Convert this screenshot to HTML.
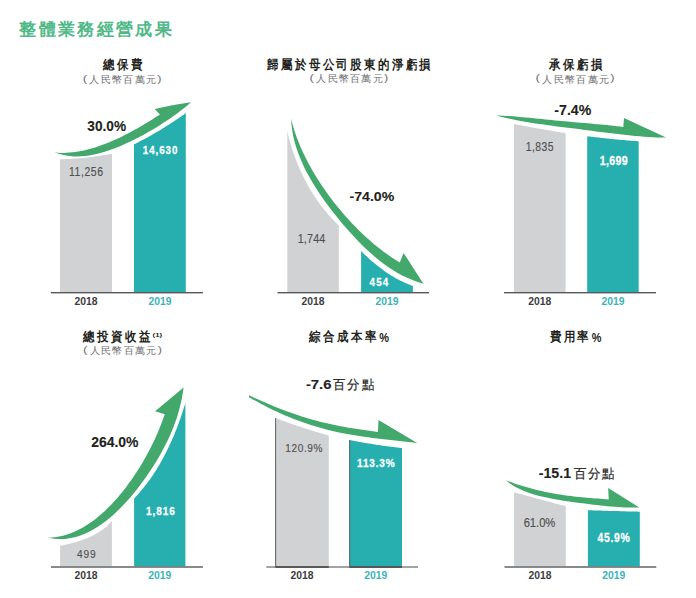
<!DOCTYPE html>
<html><head><meta charset="utf-8"><style>
html,body{margin:0;padding:0;background:#fff;width:696px;height:598px;overflow:hidden}
svg{display:block;font-family:"Liberation Sans",sans-serif}
</style></head><body>
<svg width="696" height="598" viewBox="0 0 696 598">
<path d="M60,292 L60,159.3 L60.0,159.3 L61.3,159.3 L62.7,159.2 L64.0,159.2 L65.4,159.1 L66.7,159.1 L68.1,159.0 L69.4,158.9 L70.7,158.9 L72.1,158.8 L73.4,158.7 L74.8,158.6 L76.1,158.5 L77.4,158.4 L78.8,158.3 L80.1,158.2 L81.4,158.1 L82.8,157.9 L84.1,157.8 L85.5,157.7 L86.8,157.5 L88.1,157.4 L89.4,157.2 L90.8,157.0 L92.1,156.9 L93.4,156.7 L94.8,156.5 L96.1,156.3 L97.4,156.2 L98.8,156.0 L100.1,155.8 L101.4,155.6 L102.7,155.3 L104.1,155.1 L105.4,154.9 L106.7,154.7 L108.0,154.4 L109.4,154.2 L110.7,154.0 L112.0,153.7 L112,292 Z" fill="#d1d2d4"/>
<path d="M134,292 L134,144.4 L134.0,144.4 L135.4,143.7 L136.8,143.0 L138.2,142.3 L139.5,141.6 L140.9,140.8 L142.3,140.1 L143.7,139.4 L145.0,138.7 L146.4,137.9 L147.8,137.2 L149.1,136.4 L150.5,135.7 L151.8,134.9 L153.2,134.1 L154.5,133.3 L155.9,132.6 L157.2,131.8 L158.5,131.0 L159.9,130.2 L161.2,129.4 L162.5,128.6 L163.8,127.8 L165.2,126.9 L166.5,126.1 L167.8,125.3 L169.1,124.5 L170.4,123.6 L171.7,122.8 L173.0,121.9 L174.3,121.1 L175.6,120.2 L176.9,119.3 L178.2,118.5 L179.4,117.6 L180.7,116.7 L182.0,115.8 L183.3,114.9 L184.5,114.0 L185.8,113.1 L185.8,292 Z" fill="#27afb0"/>
<path d="M54.8,152.5 L57.8,152.7 L60.7,152.9 L63.7,152.9 L66.6,152.8 L69.5,152.6 L72.4,152.3 L75.3,152.0 L78.2,151.6 L81.0,151.0 L83.9,150.4 L86.7,149.8 L89.5,149.1 L92.3,148.3 L95.1,147.4 L97.9,146.5 L100.6,145.6 L103.3,144.6 L106.1,143.5 L108.8,142.4 L111.5,141.3 L114.2,140.1 L116.8,138.9 L119.5,137.7 L122.1,136.4 L124.7,135.1 L127.3,133.8 L129.9,132.4 L132.5,131.0 L135.0,129.6 L137.6,128.2 L140.1,126.7 L142.6,125.3 L145.1,123.8 L147.6,122.3 L150.1,120.7 L152.6,119.2 L155.0,117.6 L157.5,116.0 L159.9,114.4 L154.7,109 Q172,104.8 190.9,102.3 L190.9,102.3 L187.9,104.9 L184.9,107.4 L181.8,109.8 L178.7,112.2 L175.7,114.4 L172.5,116.7 L169.4,118.9 L166.2,121.0 L163.0,123.1 L159.8,125.2 L156.6,127.2 L153.3,129.2 L150.0,131.1 L146.6,133.0 L143.2,134.9 L139.8,136.7 L136.4,138.5 L132.9,140.3 L129.4,142.0 L125.8,143.6 L122.3,145.2 L118.7,146.7 L115.0,148.2 L111.4,149.5 L107.7,150.8 L104.0,152.0 L100.3,153.0 L96.5,154.0 L92.8,154.8 L89.0,155.4 L85.2,155.9 L81.4,156.3 L77.6,156.4 L73.8,156.4 L70.0,156.1 L66.2,155.6 L62.4,154.8 L58.6,153.8 L54.8,152.5 Z" fill="#43a86c"/>
<rect x="50.8" y="292" width="152.1" height="1.4" fill="#58595b"/>
<path d="M287.3,292 L287.3,131.1 L287.3,131.1 L287.9,133.8 L288.6,136.5 L289.3,139.2 L290.0,141.9 L290.8,144.6 L291.6,147.2 L292.4,149.9 L293.3,152.6 L294.2,155.2 L295.2,157.8 L296.2,160.4 L297.2,163.1 L298.3,165.6 L299.4,168.2 L300.5,170.8 L301.7,173.3 L302.9,175.8 L304.1,178.3 L305.4,180.8 L306.8,183.3 L308.1,185.7 L309.5,188.2 L310.9,190.6 L312.4,193.0 L313.9,195.3 L315.5,197.7 L317.0,200.0 L318.6,202.3 L320.3,204.5 L322.0,206.7 L323.7,208.9 L325.5,211.1 L327.3,213.3 L329.1,215.4 L331.0,217.5 L332.9,219.5 L334.8,221.6 L336.8,223.5 L338.8,225.5 L338.8,292 Z" fill="#d1d2d4"/>
<path d="M361.1,292 L361.1,251 L361.1,251.0 L362.2,252.1 L363.4,253.3 L364.5,254.4 L365.7,255.5 L366.9,256.6 L368.1,257.7 L369.2,258.8 L370.5,259.9 L371.7,260.9 L372.9,262.0 L374.1,263.0 L375.4,264.1 L376.6,265.1 L377.9,266.1 L379.2,267.1 L380.5,268.1 L381.8,269.1 L383.1,270.0 L384.4,271.0 L385.7,271.9 L387.0,272.8 L388.4,273.7 L389.8,274.6 L391.1,275.4 L392.5,276.3 L393.9,277.1 L395.3,277.9 L396.7,278.7 L398.1,279.4 L399.6,280.2 L401.0,280.9 L402.4,281.6 L403.9,282.3 L405.4,282.9 L406.9,283.6 L408.4,284.2 L409.9,284.8 L411.4,285.4 L412.9,285.9 L412.9,292 Z" fill="#27afb0"/>
<path d="M291.1,118.8 L292.3,123.4 L293.6,128.0 L295.0,132.5 L296.6,136.9 L298.3,141.3 L300.0,145.7 L301.9,150.0 L303.9,154.3 L306.0,158.5 L308.1,162.7 L310.4,166.8 L312.7,170.9 L315.1,175.0 L317.6,179.0 L320.2,183.0 L322.8,186.9 L325.5,190.8 L328.2,194.7 L331.1,198.5 L333.9,202.2 L336.9,205.9 L339.9,209.6 L342.9,213.2 L346.0,216.8 L349.2,220.3 L352.4,223.7 L355.7,227.1 L359.0,230.5 L362.4,233.8 L365.9,237.0 L369.4,240.1 L372.9,243.2 L376.6,246.2 L380.3,249.1 L384.0,252.0 L387.9,254.7 L391.8,257.4 L395.7,260.0 L399.8,262.5 L403.6,252.9 L423.4,283.7 L423.4,283.7 L417.8,282.0 L412.4,280.1 L407.2,277.8 L402.1,275.4 L397.2,272.7 L392.4,269.8 L387.8,266.7 L383.3,263.4 L378.8,260.0 L374.5,256.4 L370.3,252.7 L366.1,248.9 L362.0,244.9 L358.0,240.9 L354.1,236.8 L350.2,232.6 L346.4,228.3 L342.6,224.0 L339.0,219.6 L335.4,215.1 L331.8,210.6 L328.4,206.0 L325.0,201.4 L321.7,196.7 L318.5,192.0 L315.5,187.3 L312.5,182.4 L309.7,177.6 L307.0,172.7 L304.4,167.7 L302.1,162.6 L299.9,157.5 L297.9,152.3 L296.1,147.0 L294.5,141.6 L293.2,136.1 L292.2,130.5 L291.5,124.7 L291.1,118.8 Z" fill="#43a86c"/>
<rect x="277.5" y="292" width="151.5" height="1.4" fill="#58595b"/>
<path d="M513.9,292 L513.9,124 L513.9,124.0 L515.2,124.3 L516.5,124.5 L517.9,124.8 L519.2,125.0 L520.5,125.2 L521.8,125.5 L523.2,125.7 L524.5,126.0 L525.8,126.2 L527.1,126.5 L528.5,126.7 L529.8,127.0 L531.1,127.2 L532.4,127.4 L533.8,127.7 L535.1,127.9 L536.4,128.2 L537.7,128.4 L539.1,128.6 L540.4,128.9 L541.7,129.1 L543.0,129.3 L544.4,129.6 L545.7,129.8 L547.0,130.0 L548.3,130.3 L549.7,130.5 L551.0,130.7 L552.3,131.0 L553.6,131.2 L555.0,131.4 L556.3,131.6 L557.6,131.9 L559.0,132.1 L560.3,132.3 L561.6,132.5 L562.9,132.8 L564.3,133.0 L565.6,133.2 L565.6,292 Z" fill="#d1d2d4"/>
<path d="M587.2,292 L587.2,136.2 L587.2,136.2 L588.5,136.4 L589.8,136.5 L591.2,136.7 L592.5,136.8 L593.8,137.0 L595.1,137.2 L596.4,137.3 L597.7,137.5 L599.1,137.6 L600.4,137.8 L601.7,137.9 L603.0,138.1 L604.3,138.2 L605.7,138.3 L607.0,138.5 L608.3,138.6 L609.6,138.8 L610.9,138.9 L612.3,139.0 L613.6,139.2 L614.9,139.3 L616.2,139.4 L617.5,139.5 L618.9,139.7 L620.2,139.8 L621.5,139.9 L622.8,140.0 L624.1,140.1 L625.5,140.3 L626.8,140.4 L628.1,140.5 L629.4,140.6 L630.8,140.7 L632.1,140.8 L633.4,140.9 L634.7,141.0 L636.1,141.1 L637.4,141.2 L638.7,141.3 L638.7,292 Z" fill="#27afb0"/>
<path d="M496.6,115.5 L499.9,115.6 L503.1,115.7 L506.4,115.9 L509.6,116.1 L512.9,116.3 L516.2,116.6 L519.4,116.9 L522.7,117.2 L525.9,117.5 L529.1,117.8 L532.4,118.1 L535.6,118.4 L538.9,118.7 L542.1,119.1 L545.4,119.4 L548.6,119.7 L551.9,120.0 L555.1,120.4 L558.4,120.7 L561.6,121.0 L564.9,121.3 L568.1,121.6 L571.3,121.9 L574.6,122.2 L577.8,122.5 L581.1,122.8 L584.3,123.1 L587.6,123.3 L590.8,123.6 L594.1,123.9 L597.3,124.2 L600.6,124.5 L603.8,124.8 L607.1,125.1 L610.3,125.5 L613.6,125.8 L616.8,126.2 L620.1,126.6 L623.3,127.0 L624,118 L666,137.5 L666.0,137.5 L661.6,137.5 L657.2,137.4 L652.8,137.2 L648.4,137.0 L644.0,136.7 L639.7,136.3 L635.3,135.9 L630.9,135.5 L626.6,135.0 L622.2,134.6 L617.9,134.1 L613.5,133.5 L609.2,133.0 L604.8,132.5 L600.5,131.9 L596.1,131.4 L591.8,130.8 L587.4,130.3 L583.1,129.7 L578.7,129.1 L574.4,128.6 L570.0,128.0 L565.7,127.5 L561.3,126.9 L556.9,126.4 L552.6,125.8 L548.2,125.2 L543.9,124.6 L539.6,124.0 L535.2,123.4 L530.9,122.7 L526.6,122.0 L522.2,121.3 L517.9,120.5 L513.6,119.6 L509.4,118.7 L505.1,117.7 L500.8,116.7 L496.6,115.5 Z" fill="#43a86c"/>
<rect x="504" y="292" width="152.0" height="1.4" fill="#58595b"/>
<path d="M60.1,566.3 L60.1,545.8 L60.1,545.8 L61.6,545.5 L63.0,545.2 L64.5,544.9 L65.9,544.6 L67.4,544.3 L68.8,543.9 L70.3,543.6 L71.8,543.2 L73.2,542.8 L74.7,542.4 L76.1,542.0 L77.6,541.6 L79.0,541.1 L80.5,540.6 L81.9,540.2 L83.3,539.6 L84.7,539.1 L86.1,538.6 L87.5,538.0 L88.9,537.4 L90.2,536.8 L91.6,536.2 L92.9,535.5 L94.3,534.8 L95.6,534.1 L96.9,533.3 L98.2,532.6 L99.4,531.8 L100.7,531.0 L101.9,530.1 L103.1,529.2 L104.3,528.3 L105.4,527.4 L106.6,526.4 L107.7,525.4 L108.8,524.3 L109.8,523.3 L110.9,522.1 L111.9,521.0 L111.9,566.3 Z" fill="#d1d2d4"/>
<path d="M134.1,566.3 L134.1,498.5 L134.1,498.5 L136.0,496.4 L137.9,494.4 L139.8,492.3 L141.6,490.1 L143.4,488.0 L145.1,485.8 L146.9,483.5 L148.5,481.3 L150.2,479.0 L151.8,476.7 L153.3,474.4 L154.9,472.1 L156.4,469.7 L157.8,467.3 L159.3,464.9 L160.7,462.5 L162.0,460.0 L163.4,457.6 L164.7,455.1 L166.0,452.6 L167.2,450.1 L168.4,447.6 L169.6,445.0 L170.8,442.5 L171.9,439.9 L173.1,437.3 L174.2,434.7 L175.2,432.1 L176.3,429.5 L177.3,426.9 L178.3,424.2 L179.2,421.6 L180.2,419.0 L181.1,416.3 L182.0,413.7 L182.9,411.0 L183.7,408.3 L184.6,405.7 L185.4,403.0 L185.4,566.3 Z" fill="#27afb0"/>
<path d="M48.0,537.7 L52.8,537.4 L57.4,536.8 L61.9,535.9 L66.4,534.7 L70.7,533.2 L74.9,531.5 L79.0,529.6 L82.9,527.4 L86.8,525.1 L90.6,522.6 L94.3,519.9 L97.9,517.1 L101.4,514.1 L104.8,511.0 L108.1,507.8 L111.4,504.5 L114.5,501.1 L117.6,497.7 L120.6,494.1 L123.5,490.5 L126.3,486.9 L129.0,483.1 L131.7,479.4 L134.3,475.6 L136.8,471.8 L139.3,467.9 L141.7,464.0 L144.0,460.0 L146.2,456.1 L148.4,452.1 L150.5,448.0 L152.5,444.0 L154.5,439.9 L156.3,435.7 L158.2,431.5 L159.9,427.3 L161.6,423.0 L163.2,418.6 L164.8,414.2 L155.1,411.2 L183.6,387.5 L183.6,387.5 L182.7,393.5 L181.7,399.3 L180.4,404.9 L179.0,410.3 L177.5,415.7 L175.7,420.9 L173.8,426.1 L171.8,431.2 L169.6,436.2 L167.3,441.2 L164.8,446.1 L162.2,451.0 L159.5,455.9 L156.7,460.7 L153.7,465.5 L150.6,470.3 L147.4,475.0 L144.1,479.7 L140.7,484.3 L137.2,488.9 L133.5,493.4 L129.8,497.9 L125.9,502.2 L121.9,506.4 L117.9,510.5 L113.7,514.4 L109.4,518.2 L104.9,521.7 L100.4,525.0 L95.8,528.1 L91.0,530.8 L86.1,533.2 L81.1,535.3 L75.9,536.9 L70.6,538.1 L65.2,538.9 L59.6,539.1 L53.9,538.7 L48.0,537.7 Z" fill="#43a86c"/>
<rect x="50.9" y="566.3" width="152.0" height="1.4" fill="#58595b"/>
<path d="M275.2,566.3 L275.2,418 L275.2,418.0 L276.6,418.5 L277.9,419.0 L279.3,419.5 L280.6,420.0 L282.0,420.5 L283.4,421.0 L284.7,421.5 L286.1,421.9 L287.5,422.4 L288.8,422.9 L290.2,423.4 L291.6,423.8 L292.9,424.3 L294.3,424.8 L295.7,425.2 L297.0,425.7 L298.4,426.2 L299.8,426.6 L301.1,427.1 L302.5,427.5 L303.9,428.0 L305.3,428.4 L306.6,428.9 L308.0,429.3 L309.4,429.7 L310.8,430.2 L312.2,430.6 L313.5,431.0 L314.9,431.5 L316.3,431.9 L317.7,432.3 L319.1,432.7 L320.5,433.2 L321.9,433.6 L323.2,434.0 L324.6,434.4 L326.0,434.8 L327.4,435.2 L328.8,435.6 L328.8,566.3 Z" fill="#d1d2d4"/>
<rect x="275.2" y="418" width="0.9" height="148.3" fill="#555"/>
<path d="M349.3,566.3 L349.3,440 L349.3,440.0 L350.6,440.3 L352.0,440.5 L353.3,440.8 L354.7,441.0 L356.0,441.3 L357.4,441.5 L358.7,441.8 L360.1,442.0 L361.4,442.3 L362.7,442.5 L364.1,442.7 L365.4,443.0 L366.8,443.2 L368.1,443.4 L369.5,443.6 L370.8,443.8 L372.2,444.1 L373.5,444.3 L374.9,444.5 L376.2,444.7 L377.6,444.9 L378.9,445.1 L380.3,445.3 L381.6,445.5 L383.0,445.7 L384.4,445.9 L385.7,446.0 L387.1,446.2 L388.4,446.4 L389.8,446.6 L391.1,446.7 L392.5,446.9 L393.8,447.1 L395.2,447.2 L396.6,447.4 L397.9,447.6 L399.3,447.7 L400.6,447.9 L402.0,448.0 L402,566.3 Z" fill="#27afb0"/>
<rect x="349.3" y="440" width="0.9" height="126.3" fill="#555"/>
<path d="M249.0,395.3 L252.1,396.7 L255.3,398.2 L258.4,399.6 L261.6,401.0 L264.8,402.3 L267.9,403.7 L271.1,405.0 L274.3,406.4 L277.5,407.7 L280.7,408.9 L284.0,410.2 L287.2,411.4 L290.4,412.6 L293.7,413.7 L297.0,414.8 L300.2,415.9 L303.5,417.0 L306.8,418.0 L310.1,418.9 L313.5,419.9 L316.8,420.8 L320.1,421.7 L323.5,422.5 L326.8,423.3 L330.2,424.1 L333.6,424.8 L337.0,425.5 L340.4,426.2 L343.8,426.8 L347.2,427.4 L350.6,428.0 L354.0,428.6 L357.4,429.1 L360.8,429.6 L364.2,430.1 L367.7,430.6 L371.1,431.1 L374.5,431.5 L377.9,432.0 L378.5,420 L417.6,443.2 L417.6,443.2 L413.1,442.6 L408.6,442.0 L404.1,441.5 L399.6,441.0 L395.1,440.5 L390.7,440.0 L386.2,439.5 L381.7,439.0 L377.2,438.5 L372.7,437.9 L368.2,437.3 L363.7,436.7 L359.2,436.0 L354.8,435.3 L350.3,434.5 L345.9,433.7 L341.4,432.9 L337.0,431.9 L332.6,430.9 L328.2,429.9 L323.8,428.8 L319.5,427.6 L315.1,426.3 L310.8,425.0 L306.5,423.6 L302.2,422.1 L298.0,420.5 L293.7,418.9 L289.5,417.2 L285.3,415.5 L281.2,413.7 L277.1,411.8 L273.0,409.9 L268.9,407.9 L264.8,405.8 L260.8,403.7 L256.9,401.6 L252.9,399.4 L249.0,397.2 Z" fill="#43a86c"/>
<rect x="266.3" y="566.3" width="151.7" height="1.4" fill="#7d7d7d"/>
<rect x="275.2" y="566.3" width="53.6" height="1.4" fill="#3a3a3a"/>
<rect x="349.3" y="566.3" width="52.7" height="1.4" fill="#3a3a3a"/>
<path d="M514.1,566.3 L514.1,492.3 L514.1,492.3 L515.4,492.7 L516.7,493.0 L518.1,493.4 L519.4,493.7 L520.7,494.1 L522.0,494.5 L523.4,494.8 L524.7,495.2 L526.0,495.5 L527.3,495.9 L528.7,496.2 L530.0,496.6 L531.3,497.0 L532.7,497.3 L534.0,497.7 L535.3,498.0 L536.6,498.4 L538.0,498.7 L539.3,499.1 L540.6,499.5 L541.9,499.8 L543.3,500.2 L544.6,500.5 L545.9,500.9 L547.2,501.2 L548.6,501.6 L549.9,502.0 L551.2,502.3 L552.5,502.7 L553.9,503.0 L555.2,503.4 L556.5,503.7 L557.8,504.1 L559.2,504.4 L560.5,504.8 L561.8,505.1 L563.1,505.5 L564.5,505.8 L565.8,506.2 L565.8,566.3 Z" fill="#d1d2d4"/>
<path d="M587.9,566.3 L587.9,510.2 L587.9,510.2 L589.2,510.2 L590.6,510.3 L591.9,510.3 L593.2,510.4 L594.6,510.4 L595.9,510.5 L597.2,510.5 L598.5,510.5 L599.9,510.6 L601.2,510.6 L602.5,510.7 L603.9,510.7 L605.2,510.7 L606.5,510.8 L607.9,510.8 L609.2,510.9 L610.5,510.9 L611.9,510.9 L613.2,511.0 L614.5,511.0 L615.8,511.1 L617.2,511.1 L618.5,511.1 L619.8,511.2 L621.2,511.2 L622.5,511.2 L623.8,511.3 L625.2,511.3 L626.5,511.4 L627.8,511.4 L629.2,511.4 L630.5,511.5 L631.8,511.5 L633.1,511.5 L634.5,511.6 L635.8,511.6 L637.1,511.6 L638.5,511.7 L639.8,511.7 L639.8,566.3 Z" fill="#27afb0"/>
<path d="M505.7,480.3 L508.2,481.2 L510.8,482.1 L513.3,483.0 L515.9,483.9 L518.4,484.7 L521.0,485.5 L523.6,486.3 L526.2,487.1 L528.8,487.8 L531.4,488.5 L534.0,489.2 L536.6,489.9 L539.2,490.5 L541.9,491.1 L544.5,491.7 L547.1,492.2 L549.8,492.8 L552.4,493.3 L555.1,493.7 L557.7,494.2 L560.4,494.6 L563.1,495.0 L565.7,495.4 L568.4,495.8 L571.1,496.1 L573.8,496.4 L576.4,496.7 L579.1,497.0 L581.8,497.3 L584.5,497.5 L587.2,497.7 L589.9,498.0 L592.6,498.2 L595.2,498.4 L597.9,498.6 L600.6,498.8 L603.3,499.0 L606.0,499.2 L608.7,499.4 L608.2,488.1 L639.3,507.4 L639.3,507.4 L635.7,507.5 L632.1,507.6 L628.5,507.5 L625.0,507.4 L621.4,507.3 L617.9,507.1 L614.4,506.8 L610.9,506.5 L607.4,506.2 L603.9,505.8 L600.4,505.5 L596.9,505.1 L593.4,504.7 L589.9,504.2 L586.4,503.8 L582.9,503.3 L579.4,502.9 L575.9,502.4 L572.4,501.9 L568.8,501.4 L565.3,500.9 L561.8,500.4 L558.3,499.8 L554.7,499.2 L551.2,498.5 L547.8,497.8 L544.3,497.1 L540.8,496.3 L537.4,495.4 L534.0,494.5 L530.6,493.4 L527.3,492.3 L524.0,491.0 L520.8,489.6 L517.6,488.1 L514.5,486.4 L511.5,484.6 L508.6,482.5 L505.7,480.3 Z" fill="#43a86c"/>
<rect x="504.5" y="566.3" width="151.8" height="1.4" fill="#58595b"/>
<text transform="translate(0,34.80)" x="19.23 38.57 57.91 77.25 96.59 115.93 135.27 154.61" font-size="17.30" font-weight="bold" fill="#50b888">整體業務經營成果</text>
<text transform="translate(0,68.89) scale(0.880,1)" x="116.89 132.74 148.59" font-size="12.50" font-weight="bold" fill="#231f20">總保費</text>
<text transform="translate(0,68.69) scale(0.880,1)" x="303.69 319.40 335.12 350.84 366.55 382.27 397.98 413.70 429.41 445.13 460.85 476.56" font-size="12.50" font-weight="bold" fill="#231f20">歸屬於母公司股東的淨虧損</text>
<text transform="translate(0,68.69) scale(0.880,1)" x="623.62 639.47 655.32 671.18" font-size="12.50" font-weight="bold" fill="#231f20">承保虧損</text>
<text transform="translate(0,340.86) scale(0.880,1)" x="94.67 110.52 126.38 142.23 158.08" font-size="12.50" font-weight="bold" fill="#231f20">總投資收益</text>
<text transform="translate(152.61,337.10) scale(1.259,1)" font-size="6.17" font-weight="bold" fill="#231f20">(1)</text>
<text transform="translate(0,341.44) scale(0.880,1)" x="350.98 366.83 382.68 398.53 414.39" font-size="12.50" font-weight="bold" fill="#231f20">綜合成本率</text>
<text transform="translate(379.37,342.07) scale(0.834,1)" font-size="13.14" font-weight="bold" fill="#231f20">%</text>
<text transform="translate(0,341.38) scale(0.880,1)" x="624.56 640.41 656.26" font-size="12.50" font-weight="bold" fill="#231f20">費用率</text>
<text transform="translate(591.77,342.07) scale(0.825,1)" font-size="13.14" font-weight="bold" fill="#231f20">%</text>
<text transform="translate(0,388.77) scale(0.950,1)" x="350.64 364.86 380.75" font-size="13.40" font-weight="normal" stroke="#231f20" stroke-width="0.2" fill="#231f20">百分點</text>
<text transform="translate(0,477.62) scale(0.950,1)" x="603.96 618.80 633.64" font-size="13.40" font-weight="normal" stroke="#231f20" stroke-width="0.2" fill="#231f20">百分點</text>
<text transform="translate(0,82.85)" x="89.45 100.75 112.05 123.35 134.65 145.95" font-size="10.00" font-weight="normal" fill="#6d6e71">人民幣百萬元</text>
<text transform="translate(82.70,81.57) scale(1.400,1)" font-size="9.50" font-weight="normal" fill="#6d6e71">(</text>
<text transform="translate(157.27,81.57) scale(1.350,1)" font-size="9.50" font-weight="normal" fill="#6d6e71">)</text>
<text transform="translate(0,82.35)" x="316.25 327.55 338.85 350.15 361.45 372.75" font-size="10.00" font-weight="normal" fill="#6d6e71">人民幣百萬元</text>
<text transform="translate(309.50,81.07) scale(1.400,1)" font-size="9.50" font-weight="normal" fill="#6d6e71">(</text>
<text transform="translate(384.07,81.07) scale(1.350,1)" font-size="9.50" font-weight="normal" fill="#6d6e71">)</text>
<text transform="translate(0,82.65)" x="542.35 553.65 564.95 576.25 587.55 598.85" font-size="10.00" font-weight="normal" fill="#6d6e71">人民幣百萬元</text>
<text transform="translate(535.60,81.37) scale(1.400,1)" font-size="9.50" font-weight="normal" fill="#6d6e71">(</text>
<text transform="translate(610.17,81.37) scale(1.350,1)" font-size="9.50" font-weight="normal" fill="#6d6e71">)</text>
<text transform="translate(0,353.95)" x="89.85 101.15 112.45 123.75 135.05 146.35" font-size="10.00" font-weight="normal" fill="#6d6e71">人民幣百萬元</text>
<text transform="translate(83.10,352.67) scale(1.400,1)" font-size="9.50" font-weight="normal" fill="#6d6e71">(</text>
<text transform="translate(157.67,352.67) scale(1.350,1)" font-size="9.50" font-weight="normal" fill="#6d6e71">)</text>
<text transform="translate(74.49,304.50) scale(1.009,1)" font-size="10.28" font-weight="bold" fill="#3d3d3f">2018</text>
<text transform="translate(148.39,304.50) scale(1.009,1)" font-size="10.28" font-weight="bold" fill="#3cb4b6">2019</text>
<text transform="translate(301.54,304.50) scale(1.009,1)" font-size="10.28" font-weight="bold" fill="#3d3d3f">2018</text>
<text transform="translate(375.49,304.50) scale(1.009,1)" font-size="10.28" font-weight="bold" fill="#3cb4b6">2019</text>
<text transform="translate(528.24,304.50) scale(1.009,1)" font-size="10.28" font-weight="bold" fill="#3d3d3f">2018</text>
<text transform="translate(601.44,304.50) scale(1.009,1)" font-size="10.28" font-weight="bold" fill="#3cb4b6">2019</text>
<text transform="translate(74.49,578.80) scale(1.009,1)" font-size="10.28" font-weight="bold" fill="#3d3d3f">2018</text>
<text transform="translate(148.24,578.80) scale(1.009,1)" font-size="10.28" font-weight="bold" fill="#3cb4b6">2019</text>
<text transform="translate(290.49,578.80) scale(1.009,1)" font-size="10.28" font-weight="bold" fill="#3d3d3f">2018</text>
<text transform="translate(364.14,578.80) scale(1.009,1)" font-size="10.28" font-weight="bold" fill="#3cb4b6">2019</text>
<text transform="translate(528.44,578.80) scale(1.009,1)" font-size="10.28" font-weight="bold" fill="#3d3d3f">2018</text>
<text transform="translate(602.34,578.80) scale(1.009,1)" font-size="10.28" font-weight="bold" fill="#3cb4b6">2019</text>
<text transform="translate(68.97,176.08) scale(0.860,1)" font-size="12.11" font-weight="normal" letter-spacing="0.70" stroke="#505052" stroke-width="0.15" fill="#505052">11,256</text>
<text transform="translate(142.81,153.99) scale(0.860,1)" font-size="11.41" font-weight="bold" letter-spacing="1.08" stroke="#fff" stroke-width="0.25" fill="#fff">14,630</text>
<text transform="translate(297.64,243.30) scale(0.860,1)" font-size="12.46" font-weight="normal" letter-spacing="0.26" stroke="#505052" stroke-width="0.15" fill="#505052">1,744</text>
<text transform="translate(369.50,285.89) scale(0.860,1)" font-size="11.43" font-weight="bold" letter-spacing="1.38" stroke="#fff" stroke-width="0.25" fill="#fff">454</text>
<text transform="translate(525.67,151.28) scale(0.860,1)" font-size="12.11" font-weight="normal" letter-spacing="0.55" stroke="#505052" stroke-width="0.15" fill="#505052">1,835</text>
<text transform="translate(599.86,165.18) scale(0.860,1)" font-size="12.39" font-weight="bold" letter-spacing="0.35" stroke="#fff" stroke-width="0.25" fill="#fff">1,699</text>
<text transform="translate(76.90,558.18) scale(0.860,1)" font-size="11.83" font-weight="normal" letter-spacing="1.06" stroke="#505052" stroke-width="0.15" fill="#505052">499</text>
<text transform="translate(146.10,515.48) scale(0.860,1)" font-size="11.69" font-weight="bold" letter-spacing="1.07" stroke="#fff" stroke-width="0.25" fill="#fff">1,816</text>
<text transform="translate(285.20,452.18) scale(0.860,1)" font-size="11.69" font-weight="normal" letter-spacing="0.75" stroke="#505052" stroke-width="0.15" fill="#505052">120.9%</text>
<text transform="translate(357.10,467.18) scale(0.860,1)" font-size="11.69" font-weight="bold" letter-spacing="0.94" stroke="#fff" stroke-width="0.25" fill="#fff">113.3%</text>
<text transform="translate(523.64,526.97) scale(0.860,1)" font-size="13.10" font-weight="normal" letter-spacing="-0.05" stroke="#505052" stroke-width="0.15" fill="#505052">61.0%</text>
<text transform="translate(597.49,542.48) scale(0.860,1)" font-size="12.11" font-weight="bold" letter-spacing="0.80" stroke="#fff" stroke-width="0.25" fill="#fff">45.9%</text>
<text transform="translate(87.33,130.86) scale(0.960,1)" font-size="14.23" font-weight="bold" stroke="#231f20" stroke-width="0.12" fill="#231f20">30.0%</text>
<text transform="translate(349.53,200.77) scale(1.056,1)" font-size="13.38" font-weight="bold" stroke="#231f20" stroke-width="0.12" fill="#231f20">-74.0%</text>
<text transform="translate(554.33,114.96)" font-size="14.14" font-weight="bold" stroke="#231f20" stroke-width="0.12" fill="#231f20">-7.4%</text>
<text transform="translate(91.18,446.76) scale(0.991,1)" font-size="14.08" font-weight="bold" stroke="#231f20" stroke-width="0.12" fill="#231f20">264.0%</text>
<text transform="translate(305.91,389.28) scale(1.198,1)" font-size="12.39" font-weight="bold" stroke="#231f20" stroke-width="0.12" fill="#231f20">-7.6</text>
<text transform="translate(538.73,478.26) scale(1.036,1)" font-size="13.71" font-weight="bold" stroke="#231f20" stroke-width="0.12" fill="#231f20">-15.1</text>
</svg>
</body></html>
